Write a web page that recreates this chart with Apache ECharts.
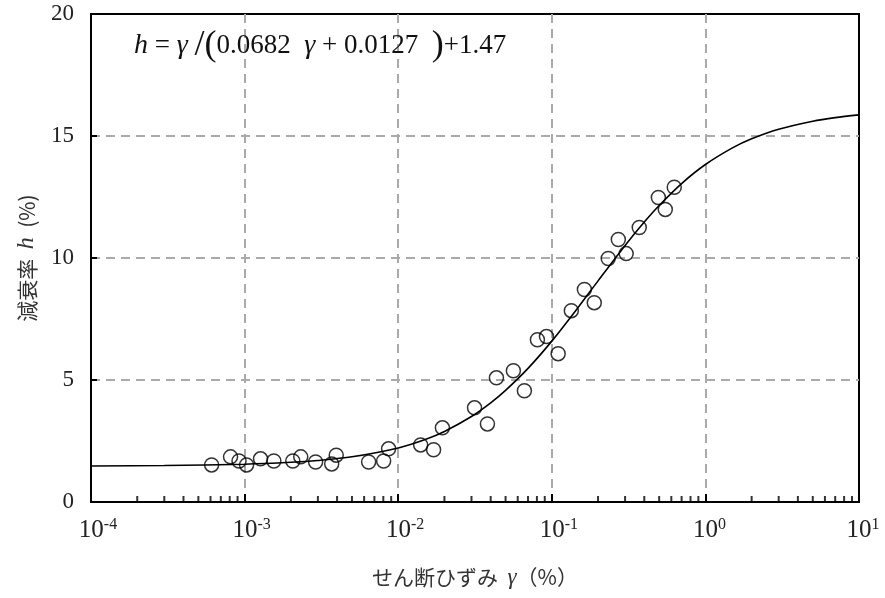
<!DOCTYPE html>
<html><head><meta charset="utf-8">
<script src="https://cdn.jsdelivr.net/npm/echarts@6/dist/echarts.min.js"></script>
<style>html,body{margin:0;padding:0;background:#fff}#c{width:885px;height:598px}</style>
</head><body><div id="c"></div>
<script>
// measured points: shear strain gamma (%) and damping ratio h (%)
const gammaObs = [6.1e-4, 8.1e-4, 9.2e-4, 1.03e-3, 1.27e-3, 1.55e-3, 2.06e-3, 2.32e-3, 2.9e-3, 3.69e-3, 3.95e-3,
  6.42e-3, 8.04e-3, 8.66e-3, 0.0140, 0.0170, 0.0194, 0.0314, 0.0381, 0.0436, 0.0562, 0.0663, 0.0806, 0.0923,
  0.110, 0.134, 0.163, 0.189, 0.233, 0.271, 0.305, 0.371, 0.494, 0.548, 0.627];
const hObs = [1.52, 1.85, 1.68, 1.52, 1.77, 1.68, 1.68, 1.85, 1.64, 1.56, 1.92,
  1.64, 1.68, 2.18, 2.34, 2.14, 3.04, 3.86, 3.20, 5.09, 5.38, 4.56, 6.65, 6.78,
  6.08, 7.84, 8.71, 8.17, 9.98, 10.76, 10.18, 11.25, 12.48, 11.99, 12.90];
// fitted curve
const gammaFit = [1e-4, 3e-4, 1e-3, 2e-3, 3e-3, 5e-3, 0.01, 0.015, 0.02, 0.03, 0.04, 0.05, 0.07, 0.1, 0.15, 0.2, 0.3, 0.4, 0.5, 0.7, 1, 1.5, 2, 3, 5, 7, 10];
const hFit = [1.478, 1.494, 1.548, 1.626, 1.702, 1.853, 2.217, 2.563, 2.892, 3.504, 4.063, 4.574, 5.476, 6.593, 8.012, 9.063, 10.517, 11.475, 12.154, 13.052, 13.831, 14.513, 14.884, 15.276, 15.606, 15.753, 15.865];
const xDecades = [-4, -3, -2, -1, 0, 1];
const minorMult = [2, 3, 4, 5, 6, 7, 8, 9];

const minorTicks = [];
xDecades.slice(0, -1).forEach(d => minorMult.forEach(m => minorTicks.push([m * Math.pow(10, d), 0])));

const chart = echarts.init(document.getElementById('c'));
const serif = '"Liberation Serif", "DejaVu Serif", serif';
const cjk = '"Noto Sans CJK JP", sans-serif';
chart.setOption({
  animation: false,
  backgroundColor: '#fff',
  grid: {left: 91, right: 26, top: 14, bottom: 96, outerBoundsMode: 'none', containLabel: false,
    show: true, borderColor: '#000', borderWidth: 2, backgroundColor: 'transparent'},
  xAxis: {
    type: 'log', logBase: 10, min: 1e-4, max: 10,
    axisLine: {show: true, lineStyle: {color: '#000', width: 2}},
    axisTick: {show: true, inside: true, length: 8, lineStyle: {color: '#000', width: 2}},
    splitLine: {show: true, showMinLine: false, showMaxLine: false, lineStyle: {color: '#aaa', width: 2, type: [9, 6]}},
    axisLabel: {
      margin: 15, color: '#222', fontFamily: serif, fontSize: 25,
      formatter: v => { const e = Math.round(Math.log10(v)); return '{p' + (e < 0 ? 'n' : 'o') + '|}{b|10}{s|' + e + '}'; },
      rich: {
        b: {fontFamily: serif, fontSize: 25, color: '#222'},
        s: {fontFamily: serif, fontSize: 16, color: '#222', verticalAlign: 'top', padding: [0, 0, 10, 0]},
        pn: {width: 14}, po: {width: 8}
      }
    },
    name: '{c|せん断ひずみ  }{g|γ}{c|（%）}', nameLocation: 'middle', nameGap: 64,
    nameTextStyle: {fontFamily: cjk, fontSize: 21, color: '#333',
      rich: {c: {fontFamily: cjk, fontSize: 21, color: '#333'}, g: {fontFamily: serif, fontStyle: 'italic', fontSize: 23, color: '#333'}}}
  },
  yAxis: {
    type: 'value', min: 0, max: 20, interval: 5,
    axisLine: {show: true, lineStyle: {color: '#000', width: 2}},
    axisTick: {show: true, inside: true, length: 6, lineStyle: {color: '#000', width: 2}},
    splitLine: {show: true, showMinLine: false, showMaxLine: false, lineStyle: {color: '#aaa', width: 2, type: [9, 6]}},
    axisLabel: {margin: 17, fontFamily: serif, fontSize: 23, color: '#222'},
    name: '{c|減衰率  }{h|h}{c|  (%)}', nameLocation: 'middle', nameGap: 52, nameRotate: 90,
    nameTextStyle: {fontFamily: cjk, fontSize: 21, color: '#333',
      rich: {c: {fontFamily: cjk, fontSize: 21, color: '#333'}, h: {fontFamily: serif, fontStyle: 'italic', fontSize: 24, color: '#333'}}}
  },
  series: [
    {type: 'line', data: gammaFit.map((g, i) => [g, hFit[i]]), smooth: 0.3, showSymbol: false,
     lineStyle: {color: '#000', width: 1.6}, z: 3},
    {type: 'scatter', data: gammaObs.map((g, i) => [g, hObs[i]]), symbol: 'circle', symbolSize: 14,
     itemStyle: {color: 'rgba(255,255,255,0)', borderColor: '#000', borderWidth: 1.5}, z: 4},
    {type: 'scatter', data: minorTicks, symbol: 'rect', symbolSize: [2, 6], symbolOffset: [0, -3], clip: false,
     itemStyle: {color: '#000'}, silent: true, z: 5}
  ],
  graphic: [{
    type: 'text', left: 134, top: 28, z: 10,
    style: {
      text: '{i|h} = {i|γ} {p|/(}0.0682  {i|γ} + 0.0127  {p|)}+1.47',
      font: '27px ' + serif, fill: '#111',
      rich: {i: {fontStyle: 'italic', fontFamily: serif, fontSize: 28, fill: '#111'}, p: {fontFamily: serif, fontSize: 36, fill: '#111'}}
    }
  }]
});
</script></body></html>
